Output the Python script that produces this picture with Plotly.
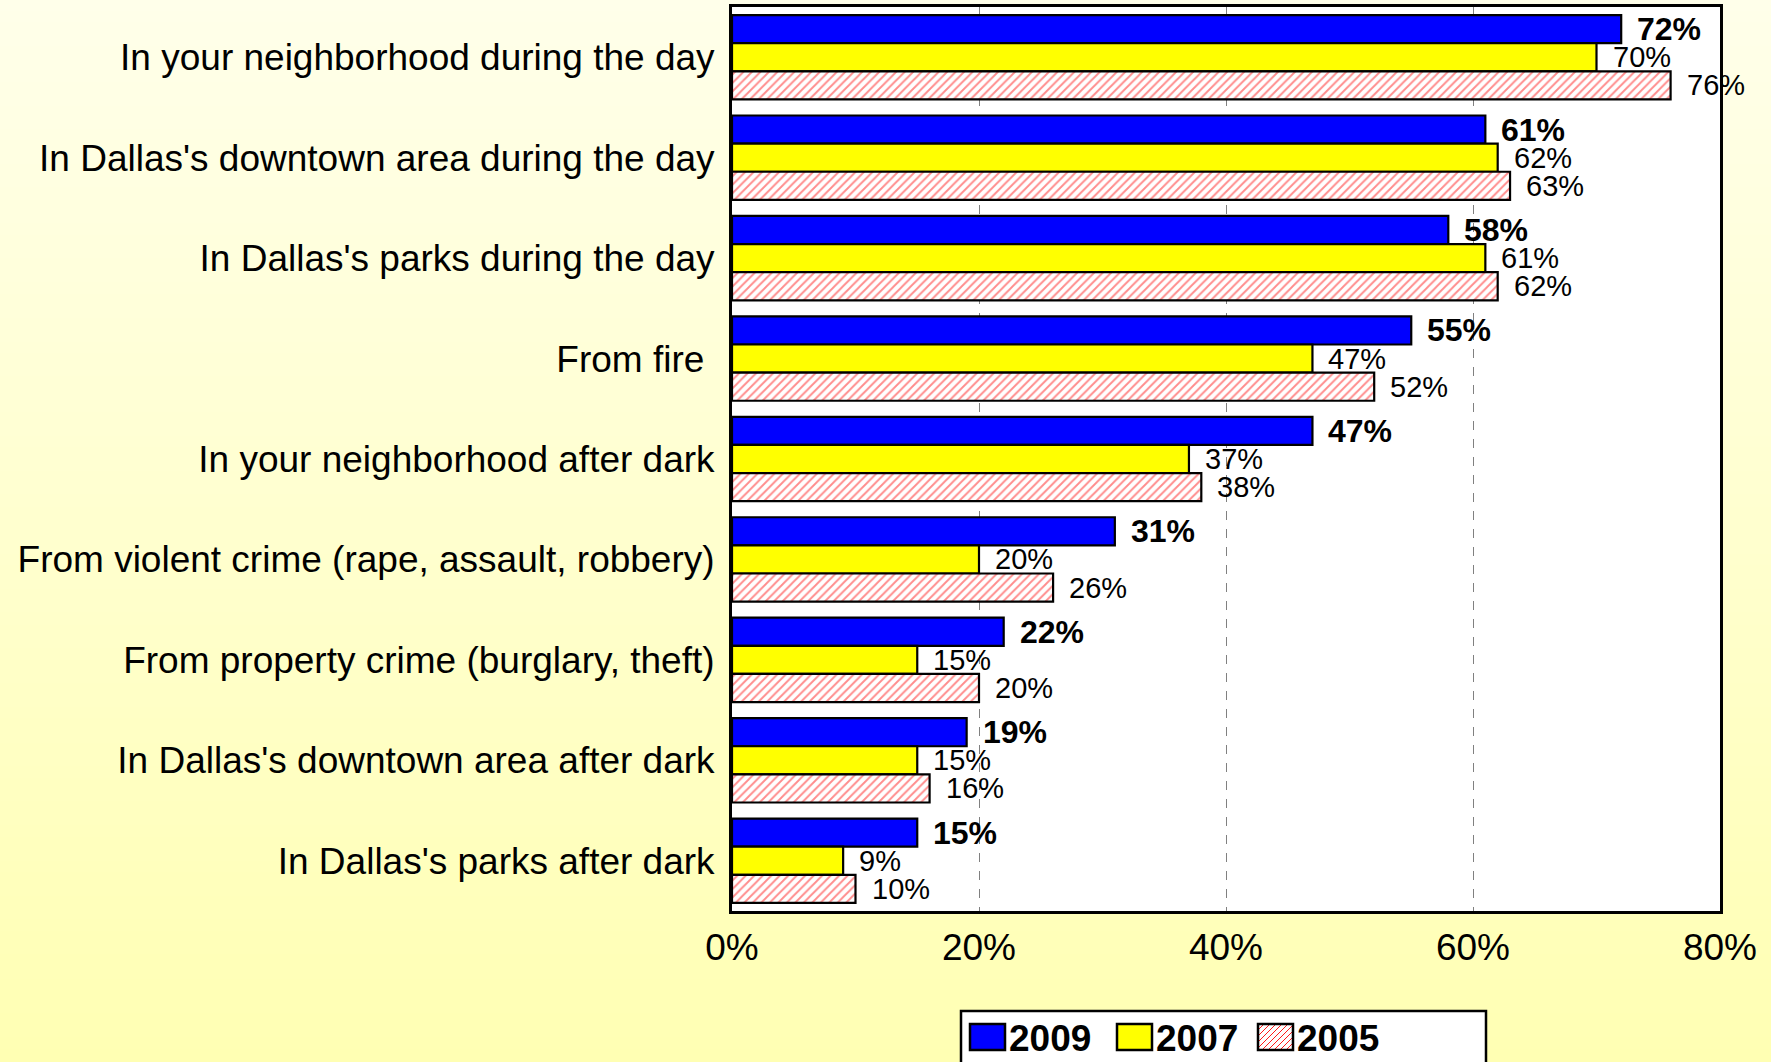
import plotly.graph_objects as go

# Survey results: share of residents who feel safe, by situation and year
categories = [
    "In your neighborhood during the day",
    "In Dallas's downtown area during the day",
    "In Dallas's parks during the day",
    "From fire ",
    "In your neighborhood after dark",
    "From violent crime (rape, assault, robbery)",
    "From property crime (burglary, theft)",
    "In Dallas's downtown area after dark",
    "In Dallas's parks after dark",
]
years = ["2009", "2007", "2005"]
values_2009 = [72, 61, 58, 55, 47, 31, 22, 19, 15]
values_2007 = [70, 62, 61, 47, 37, 20, 15, 15, 9]
values_2005 = [76, 63, 62, 52, 38, 26, 20, 16, 10]
x_ticks = [0, 20, 40, 60, 80]
x_tick_labels = ["0%", "20%", "40%", "60%", "80%"]

FONT = "Liberation Sans, Arial, sans-serif"
W, H = 1771, 1062
M_L, M_R, M_T, M_B = 732, 51, 7, 151
BARGAP = 0.16
HATCH_RED = "#FF1A1A"

series = [values_2009, values_2007, values_2005]
fills = [
    dict(color="#0000FF"),
    dict(color="#FFFF00"),
    dict(color="white", pattern=dict(shape="/", fgcolor=HATCH_RED,
                                      bgcolor="white", size=6, solidity=0.32)),
]

fig = go.Figure()
for name, vals, fill in zip(years, series, fills):
    marker = dict(line=dict(color="black", width=2.2), **fill)
    fig.add_trace(go.Bar(
        name=name, y=categories, x=vals, orientation="h",
        marker=marker, hoverinfo="skip", showlegend=False,
    ))

plot_w = W - M_L - M_R
plot_h = H - M_T - M_B


def px_x(p):
    """Figure pixel column -> paper x."""
    return (p - M_L) / plot_w


def px_y(p):
    """Figure pixel row -> paper y."""
    return (H - M_B - p) / plot_h


# Value labels just past the end of each bar
pitch = plot_h / len(categories)
bar_h = pitch * (1 - BARGAP) / len(years)
annotations = []
for i, vals in enumerate(series):
    bold = i == 0
    for cat, v in zip(categories, vals):
        annotations.append(dict(
            x=v, y=cat, xref="x", yref="y",
            text=f"<b>{v}%</b>" if bold else f"{v}%",
            showarrow=False, xanchor="left", yanchor="middle",
            xshift=14, yshift=(1 - i) * bar_h,
            font=dict(family=FONT, size=32 if bold else 29, color="black"),
        ))

# Pale-to-deeper yellow vertical gradient behind the whole figure
shapes = []
n_strips = 90
for k in range(n_strips):
    t = (k + 0.5) / n_strips
    b = round(234 + (179 - 234) * t)
    shapes.append(dict(
        type="rect", xref="paper", yref="paper",
        x0=px_x(-5), x1=px_x(W + 5),
        y0=px_y(H * (k + 1) / n_strips + 1), y1=px_y(H * k / n_strips - 1),
        fillcolor=f"rgb(255,255,{b})", line=dict(width=0), layer="below",
    ))
# White plotting area on top of the gradient
shapes.append(dict(
    type="rect", xref="paper", yref="paper", x0=0, x1=1, y0=0, y1=1,
    fillcolor="white", line=dict(width=0), layer="below",
))

# Legend box along the bottom edge
shapes.append(dict(
    type="rect", xref="paper", yref="paper",
    x0=px_x(961), x1=px_x(1486), y0=px_y(H + 20), y1=px_y(1011),
    fillcolor="white", line=dict(color="black", width=2.5), layer="above",
))
swatch_fill = ["#0000FF", "#FFFF00", "white"]
swatch_left = [970, 1117, 1258]
sw_w, sw_top, sw_bot = 35, 1024, 1050
for name, fill, sx in zip(years, swatch_fill, swatch_left):
    shapes.append(dict(
        type="rect", xref="paper", yref="paper",
        x0=px_x(sx), x1=px_x(sx + sw_w), y0=px_y(sw_bot), y1=px_y(sw_top),
        fillcolor=fill, line=dict(width=0), layer="above",
    ))
    if fill == "white":
        # diagonal hatching clipped to the swatch square
        step = 6
        h = sw_bot - sw_top
        for c in range(-h, sw_w, step):
            xa, ya = sx + c, sw_bot
            xb, yb = sx + c + h, sw_top
            if xa < sx:
                ya -= sx - xa
                xa = sx
            if xb > sx + sw_w:
                yb += xb - (sx + sw_w)
                xb = sx + sw_w
            if xb <= xa:
                continue
            shapes.append(dict(
                type="line", xref="paper", yref="paper",
                x0=px_x(xa), y0=px_y(ya), x1=px_x(xb), y1=px_y(yb),
                line=dict(color=HATCH_RED, width=1), layer="above",
            ))
    shapes.append(dict(
        type="rect", xref="paper", yref="paper",
        x0=px_x(sx), x1=px_x(sx + sw_w), y0=px_y(sw_bot), y1=px_y(sw_top),
        fillcolor="rgba(0,0,0,0)", line=dict(color="black", width=2.5),
        layer="above",
    ))
    annotations.append(dict(
        x=px_x(sx + sw_w + 2), y=px_y((sw_top + sw_bot) / 2 + 1),
        xref="paper", yref="paper", text=f"<b>{name}</b>",
        showarrow=False, xanchor="left", yanchor="middle",
        font=dict(family=FONT, size=37, color="black"),
    ))

fig.update_layout(
    width=W, height=H,
    margin=dict(l=M_L, r=M_R, t=M_T, b=M_B, pad=0, autoexpand=False),
    paper_bgcolor="#FFFFD0", plot_bgcolor="white",
    barmode="group", bargap=BARGAP, bargroupgap=0,
    font=dict(family=FONT, color="black"),
    shapes=shapes, annotations=annotations,
    showlegend=False,
)
fig.update_xaxes(
    range=[0, 80], tickvals=x_ticks, ticktext=x_tick_labels,
    showgrid=True, gridcolor="#808080", griddash="dash", gridwidth=1,
    zeroline=False, showline=True, linecolor="black", linewidth=3, mirror=True,
    ticks="outside", ticklen=2, tickcolor="rgba(0,0,0,0)",
    tickfont=dict(family=FONT, size=37, color="black"),
)
fig.update_yaxes(
    autorange="reversed", type="category",
    showline=True, linecolor="black", linewidth=3, mirror=True,
    showgrid=False, ticks="outside", ticklen=7, tickcolor="rgba(0,0,0,0)",
    tickfont=dict(family=FONT, size=37, color="black"),
)

fig.write_html("out.html")
